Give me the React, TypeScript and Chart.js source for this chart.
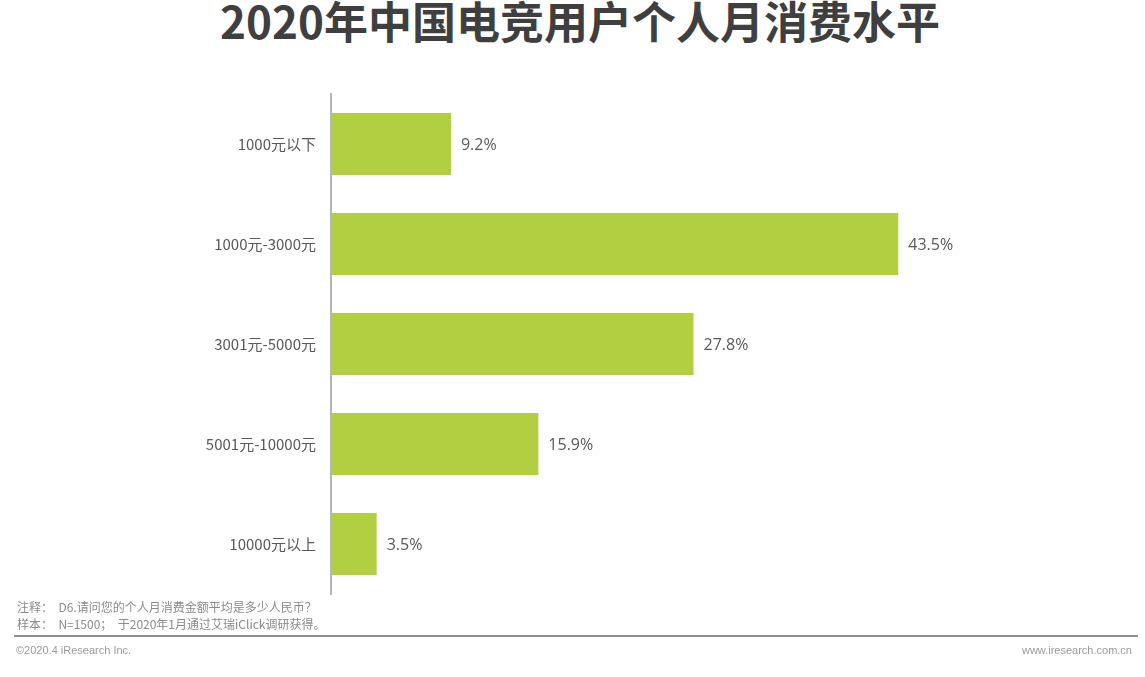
import React, { useEffect, useRef } from "react";
import { Chart, registerables } from "chart.js";

Chart.register(...registerables);

const title = "2020年中国电竞用户个人月消费水平";
const categories = ["1000元以下", "1000元-3000元", "3001元-5000元", "5001元-10000元", "10000元以上"];
const values = [9.2, 43.5, 27.8, 15.9, 3.5];
const noteLines = ["注释：  D6.请问您的个人月消费金额平均是多少人民币？", "样本：  N=1500；  于2020年1月通过艾瑞iClick调研获得。"];
const copyright = "©2020.4 iResearch Inc.";
const website = "www.iresearch.com.cn";

const FONT = "'Noto Sans CJK SC', 'Noto Sans', sans-serif";

const valueLabels = {
  id: "valueLabels",
  afterDatasetsDraw(chart: any) {
    const ctx = chart.ctx;
    const meta = chart.getDatasetMeta(0);
    ctx.save();
    ctx.fillStyle = "#595959";
    ctx.font = `16px 'Open Sans', ${FONT}`;
    ctx.textAlign = "left";
    ctx.textBaseline = "middle";
    meta.data.forEach((bar: any, i: number) => {
      ctx.fillText(values[i].toFixed(1) + "%", bar.x + 10, bar.y + 1);
    });
    ctx.restore();
  },
};

export default function App() {
  const ref = useRef<HTMLCanvasElement>(null);
  useEffect(() => {
    if (!ref.current) return;
    const chart = new Chart(ref.current, {
      type: "bar",
      data: {
        labels: categories,
        datasets: [
          {
            data: values,
            backgroundColor: "#b1cf40",
            categoryPercentage: 0.62,
            barPercentage: 1,
          },
        ],
      },
      options: {
        indexAxis: "y",
        animation: false,
        responsive: false,
        layout: { padding: { left: 0, right: 162, top: 94, bottom: 83 } },
        plugins: { legend: { display: false }, tooltip: { enabled: false } },
        scales: {
          x: { display: false, min: 0, max: 50 },
          y: {
            afterFit: (s: any) => {
              s.width = 331;
            },
            grid: { display: false, drawTicks: false },
            border: { display: true, color: "#b5b5b5", width: 2 },
            ticks: {
              color: "#595959",
              font: { family: FONT, size: 15 },
              padding: 15,
            },
          },
        },
      },
      plugins: [valueLabels],
    });
    return () => chart.destroy();
  }, []);

  return (
    <div style={{ position: "fixed", left: 0, top: 0, width: 1145, height: 677, background: "#fff", overflow: "hidden", fontFamily: FONT }}>
      <div
        style={{
          position: "absolute",
          left: 0,
          width: 1160,
          top: -10,
          textAlign: "center",
          fontSize: 44,
          fontWeight: 700,
          color: "#3f3f3f",
          lineHeight: "60px",
        }}
      >
        {title}
      </div>
      <canvas ref={ref} width={1145} height={677} style={{ position: "absolute", left: 0, top: 0 }} />
      <div style={{ position: "absolute", left: 17, top: 598, fontSize: 12, color: "#8a8a8a", lineHeight: "17px" }}>
        {noteLines.map((l, i) => (
          <div key={i} style={{ whiteSpace: "pre" }}>{l}</div>
        ))}
      </div>
      <div style={{ position: "absolute", left: 14, width: 1124, top: 635, height: 2, background: "#8f8f8f" }} />
      <div style={{ position: "absolute", left: 16, top: 644, fontSize: 11, color: "#9a9a9a", fontFamily: "'Liberation Sans', Arial, sans-serif" }}>
        {copyright}
      </div>
      <div style={{ position: "absolute", right: 13, top: 644, fontSize: 11, color: "#9a9a9a", fontFamily: "'Liberation Sans', Arial, sans-serif" }}>
        {website}
      </div>
    </div>
  );
}
